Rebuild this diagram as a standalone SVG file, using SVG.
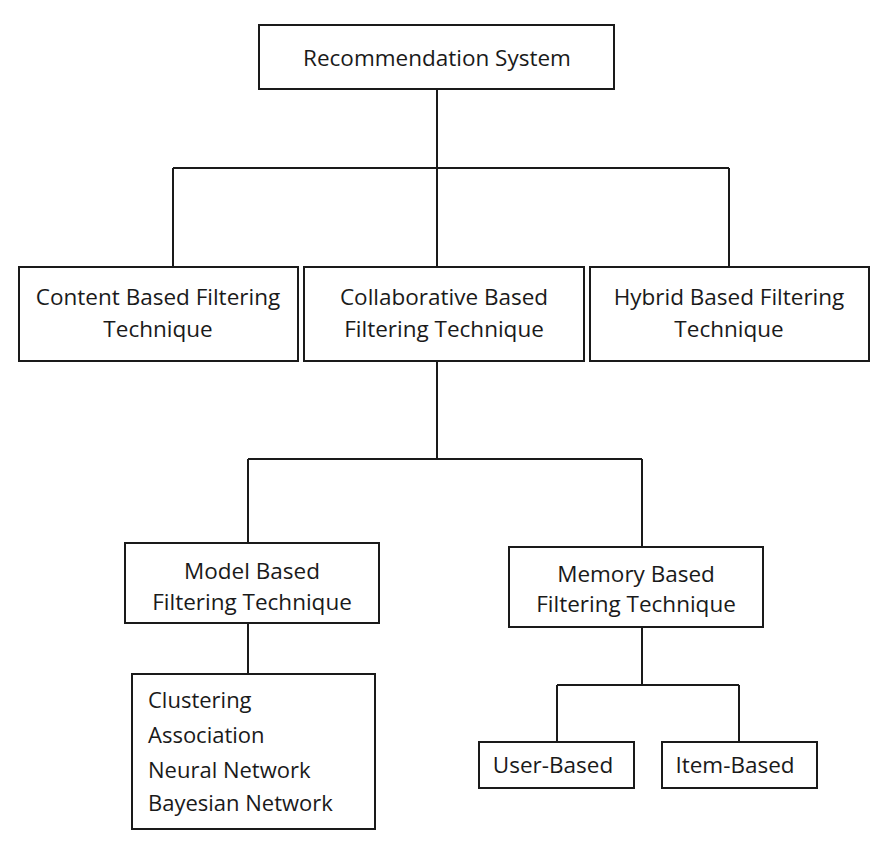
<svg xmlns="http://www.w3.org/2000/svg" width="888" height="846" viewBox="0 0 888 846">
<style>
.box{fill:#fff;stroke:#1a1a1a;stroke-width:2}
.t{font-family:"Open Sans","Liberation Sans",sans-serif;font-size:22.5px;fill:#1a1a1a;text-anchor:middle}
.l{text-anchor:start;font-size:22px}
.c{fill:none;stroke:#1a1a1a;stroke-width:2}
</style>
<rect width="888" height="846" fill="#fff"/>
<g id="connectors">
<path class="c" d="M437 89V168M173 168H729M173 168V267M437 168V267M729 168V267"/>
<path class="c" d="M437 361V459M248 459H642M248 459V543M642 459V547"/>
<path class="c" d="M248 623V674"/>
<path class="c" d="M642 627V685M557 685H739M557 685V742M739 685V742"/>
</g>
<g id="root"><rect class="box" x="259" y="25" width="355" height="64"/><text class="t" x="437" y="66">Recommendation System</text></g>
<g id="content"><rect class="box" x="19" y="267" width="279" height="94"/><text class="t" x="158" y="305">Content Based Filtering</text><text class="t" x="158" y="337">Technique</text></g>
<g id="collab"><rect class="box" x="304" y="267" width="280" height="94"/><text class="t" x="444" y="305">Collaborative Based</text><text class="t" x="444" y="337">Filtering Technique</text></g>
<g id="hybrid"><rect class="box" x="590" y="267" width="279" height="94"/><text class="t" x="729" y="305">Hybrid Based Filtering</text><text class="t" x="729" y="337">Technique</text></g>
<g id="model"><rect class="box" x="125" y="543" width="254" height="80"/><text class="t" x="252" y="579">Model Based</text><text class="t" x="252" y="610">Filtering Technique</text></g>
<g id="list"><rect class="box" x="132" y="674" width="243" height="155"/><text class="t l" x="148" y="708">Clustering</text><text class="t l" x="148" y="743">Association</text><text class="t l" x="148" y="778">Neural Network</text><text class="t l" x="148" y="811">Bayesian Network</text></g>
<g id="memory"><rect class="box" x="509" y="547" width="254" height="80"/><text class="t" x="636" y="582">Memory Based</text><text class="t" x="636" y="612">Filtering Technique</text></g>
<g id="user"><rect class="box" x="479" y="742" width="155" height="46"/><text class="t" x="553" y="773">User-Based</text></g>
<g id="item"><rect class="box" x="662" y="742" width="155" height="46"/><text class="t" x="735" y="773">Item-Based</text></g>
</svg>
